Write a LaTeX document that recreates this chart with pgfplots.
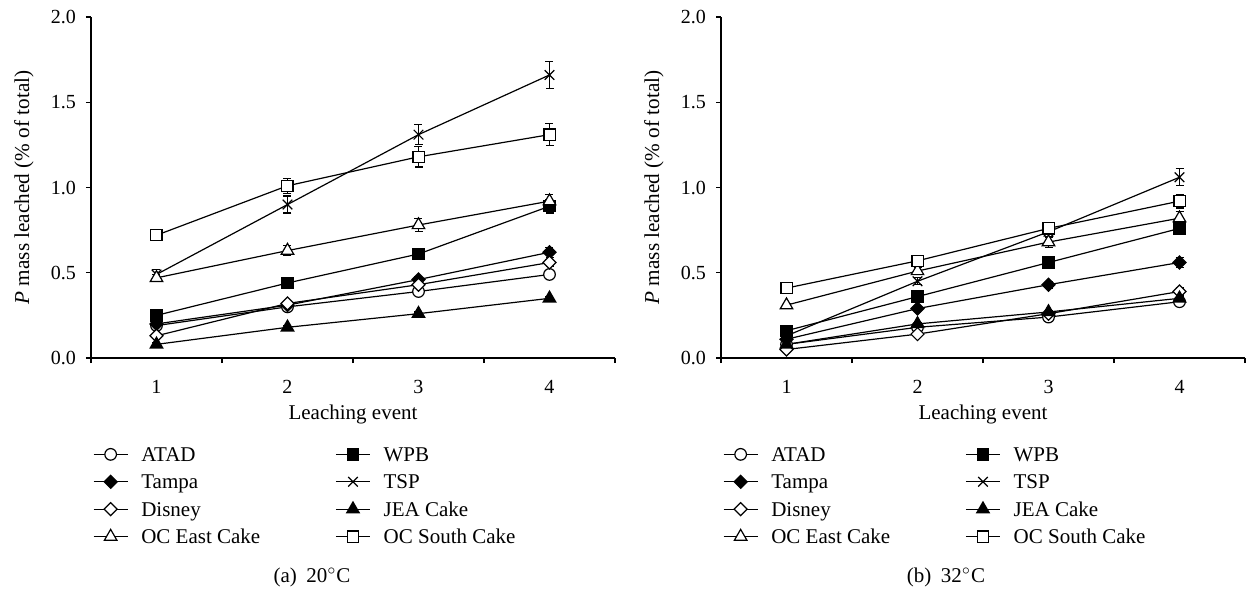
\documentclass[border=0pt]{standalone}
\usepackage{fontspec}
\setmainfont{Liberation Serif}
\usepackage{pgfplots}
\pgfplotsset{compat=1.18}

\newcommand{\fs}{\fontsize{10.5}{12}\selectfont}
\newcommand{\fst}{\fontsize{10}{12}\selectfont}
\newcommand{\fsy}{\fontsize{10.6}{12}\selectfont}

\pgfplotsset{
  panel/.style={
    scale only axis,
    width=262pt, height=170.5pt,
    xmin=0.5, xmax=4.5, ymin=0, ymax=2,
    axis x line*=bottom, axis y line*=left,
    axis line style={-, line width=0.6pt},
    tick align=outside,
    ytick={0,0.5,1,1.5,2},
    y tick label style={font=\fst, xshift=-1.5pt,
      /pgf/number format/fixed, /pgf/number format/fixed zerofill,
      /pgf/number format/precision=1, /pgf/number format/assume math mode=true},
    major tick length=2.5pt,
    tick style={black, line width=0.6pt},
    xtick={0.5,1.5,2.5,3.5,4.5},
    xticklabels={1,2,3,4,},
    x tick label style={font=\fst, xshift=32.75pt, yshift=-5pt},
    xlabel={Leaching event},
    ylabel={\textit{P} mass leached (\% of total)},
    xlabel style={font=\fs, at={(axis description cs:0.5,-0.167)}, anchor=center},
    ylabel style={font=\fsy, at={(axis description cs:-0.128,0.5)}, anchor=center},
    legend columns=2,
    legend style={draw=none, fill=none, inner sep=0pt, font=\fs,
      at={(axis description cs:0.003,-0.258)}, anchor=north west,
      nodes={inner sep=0pt, text height=7.5pt, text depth=2.5pt, anchor=base west},
      row sep=3.7pt,
      /tikz/every odd column/.append style={column sep=6.5pt},
      /tikz/every even column/.append style={column sep=0pt}},
    legend image code/.code={\draw[mark repeat=2, mark phase=2, yshift=3.5pt]
      plot coordinates {(0cm,0cm) (0.3cm,0cm) (0.6cm,0cm)};},
    every axis plot/.append style={black, line width=0.6pt,
      error bars/y dir=both, error bars/y explicit,
      error bars/error bar style={line width=0.6pt},
      error bars/error mark options={rotate=90, black, mark size=2pt, line width=0.6pt}},
    clip=false,
  },
  mATAD/.style={mark=*, mark size=2.9pt, mark options={fill=white}},
  mWPB/.style={mark=square*, mark size=2.8pt, mark options={fill=black}},
  mTampa/.style={mark=square*, mark size=2.3pt, mark options={fill=black, rotate=45}},
  mTSP/.style={mark=x, mark size=3.4pt},
  mDisney/.style={mark=square*, mark size=2.3pt, mark options={fill=white, rotate=45}},
  mJEA/.style={mark=triangle*, mark size=3.6pt, mark options={fill=black}},
  mEast/.style={mark=triangle*, mark size=3.6pt, mark options={fill=white}},
  mSouth/.style={mark=square*, mark size=2.8pt, mark options={fill=white}},
}

\begin{document}
\begin{tikzpicture}[font=\fs]
\useasboundingbox (0pt,0pt) rectangle (625pt,295pt);

% (a) 20 C
\begin{axis}[panel, at={(45.5pt,116pt)}, anchor=south west]
\addplot[mATAD] coordinates {(1,0.19) +- (0,0.01) (2,0.30) +- (0,0.01) (3,0.39) +- (0,0.02) (4,0.49) +- (0,0.02)};
\addlegendentry{\makebox[97pt][l]{ATAD}}
\addplot[mWPB] coordinates {(1,0.25) +- (0,0.01) (2,0.44) +- (0,0.02) (3,0.61) +- (0,0.02) (4,0.89) +- (0,0.04)};
\addlegendentry{WPB}
\addplot[mTampa] coordinates {(1,0.20) +- (0,0.01) (2,0.31) +- (0,0.01) (3,0.46) +- (0,0.02) (4,0.62) +- (0,0.03)};
\addlegendentry{\makebox[97pt][l]{Tampa}}
\addplot[mTSP] coordinates {(1,0.49) +- (0,0.03) (2,0.90) +- (0,0.05) (3,1.31) +- (0,0.06) (4,1.66) +- (0,0.08)};
\addlegendentry{TSP}
\addplot[mDisney] coordinates {(1,0.13) +- (0,0.01) (2,0.32) +- (0,0.01) (3,0.43) +- (0,0.02) (4,0.56) +- (0,0.02)};
\addlegendentry{\makebox[97pt][l]{Disney}}
\addplot[mJEA] coordinates {(1,0.08) +- (0,0.01) (2,0.18) +- (0,0.01) (3,0.26) +- (0,0.01) (4,0.35) +- (0,0.01)};
\addlegendentry{JEA Cake}
\addplot[mEast] coordinates {(1,0.47) +- (0,0.02) (2,0.63) +- (0,0.03) (3,0.78) +- (0,0.04) (4,0.92) +- (0,0.04)};
\addlegendentry{\makebox[97pt][l]{OC East Cake}}
\addplot[mSouth] coordinates {(1,0.72) +- (0,0.02) (2,1.01) +- (0,0.045) (3,1.18) +- (0,0.06) (4,1.31) +- (0,0.065)};
\addlegendentry{OC South Cake}
\end{axis}

% (b) 32 C
\begin{axis}[panel, at={(360.5pt,116pt)}, anchor=south west]
\addplot[mATAD] coordinates {(1,0.08) +- (0,0.01) (2,0.18) +- (0,0.01) (3,0.24) +- (0,0.01) (4,0.33) +- (0,0.02)};
\addlegendentry{\makebox[97pt][l]{ATAD}}
\addplot[mWPB] coordinates {(1,0.16) +- (0,0.01) (2,0.36) +- (0,0.02) (3,0.56) +- (0,0.02) (4,0.76) +- (0,0.03)};
\addlegendentry{WPB}
\addplot[mTampa] coordinates {(1,0.11) +- (0,0.01) (2,0.29) +- (0,0.01) (3,0.43) +- (0,0.02) (4,0.56) +- (0,0.03)};
\addlegendentry{\makebox[97pt][l]{Tampa}}
\addplot[mTSP] coordinates {(1,0.13) +- (0,0.01) (2,0.45) +- (0,0.02) (3,0.74) +- (0,0.03) (4,1.06) +- (0,0.05)};
\addlegendentry{TSP}
\addplot[mDisney] coordinates {(1,0.05) +- (0,0.01) (2,0.14) +- (0,0.01) (3,0.26) +- (0,0.01) (4,0.39) +- (0,0.02)};
\addlegendentry{\makebox[97pt][l]{Disney}}
\addplot[mJEA] coordinates {(1,0.08) +- (0,0.01) (2,0.20) +- (0,0.01) (3,0.27) +- (0,0.01) (4,0.35) +- (0,0.01)};
\addlegendentry{JEA Cake}
\addplot[mEast] coordinates {(1,0.31) +- (0,0.01) (2,0.51) +- (0,0.02) (3,0.68) +- (0,0.03) (4,0.82) +- (0,0.04)};
\addlegendentry{\makebox[97pt][l]{OC East Cake}}
\addplot[mSouth] coordinates {(1,0.41) +- (0,0.01) (2,0.57) +- (0,0.02) (3,0.76) +- (0,0.02) (4,0.92) +- (0,0.04)};
\addlegendentry{OC South Cake}
\end{axis}

\node at (156pt,6.5pt) {(a)\hspace{0.45em}20$^{\circ}$C};
\node at (473pt,6.5pt) {(b)\hspace{0.45em}32$^{\circ}$C};
\end{tikzpicture}
\end{document}
